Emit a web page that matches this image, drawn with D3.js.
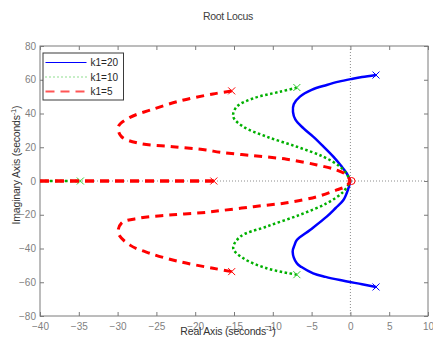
<!DOCTYPE html>
<html>
<head>
<meta charset="utf-8">
<script src="https://cdn.jsdelivr.net/npm/d3@7/dist/d3.min.js"></script>
<style>
  html, body { margin: 0; padding: 0; background: #fff; }
  svg { display: block; font-family: "Liberation Sans", Arial, Helvetica, sans-serif; }
</style>
</head>
<body>
<svg id="chart" width="433" height="341"></svg>
<script>
// Root locus branches for three gains, as [real, imaginary] pairs.
const xTicks = [-40, -35, -30, -25, -20, -15, -10, -5, 0, 5, 10];
const yTicks = [-80, -60, -40, -20, 0, 20, 40, 60, 80];

// k1 = 20
const k20Upper = [[3.3, 62.8], [1.5, 61.6], [0.3, 60.6], [-1.5, 58.9], [-3.05, 56.9], [-5, 54], [-6.5, 50],
  [-7.3, 45.5], [-7.4, 41], [-7.1, 36.5], [-6, 31], [-4.8, 26.3], [-3.5, 20.5], [-2.2, 14.4], [-1.2, 9], [-0.48, 4.6], [0, 0]];
const k20Lower = [[3.3, -62.8], [1.5, -61.2], [-1.34, -58.7], [-3.2, -56.8], [-4.8, -54.7], [-6.3, -51], [-6.9, -48.8],
  [-7.44, -41.9], [-7.2, -38], [-6.9, -35], [-5.2, -29], [-3.05, -21.1], [-1.9, -16], [-0.9, -11.3], [-0.3, -5], [0, 0]];
const k20Poles = [[3.3, 62.8], [3.3, -62.8]];

// k1 = 10
const k10Upper = [[-6.9, 55.3], [-9.07, 52.9], [-12.5, 49], [-14.65, 44], [-15.1, 38.1], [-13.8, 32.2],
  [-10.8, 26.3], [-6.9, 20.3], [-3.5, 14.4], [-1.34, 8.5], [-0.4, 3.5], [0, 0]];
const k10Lower = [[-6.9, -55.5], [-10.8, -51.7], [-13.8, -45.8], [-15.1, -39.9], [-14.2, -33], [-10.8, -27],
  [-6.5, -20], [-3.05, -13.2], [-0.9, -6.3], [0, 0]];
const k10Real = [[-40, 0], [-34.8, 0]];
const k10Poles = [[-6.9, 55.4], [-6.9, -55.5], [-34.8, 0]];

// k1 = 5
const k5Upper = [[-15.3, 53.3], [-17.7, 51.6], [-22, 47.4], [-25.8, 42], [-28.4, 37.7], [-29.9, 32.2],
  [-29.5, 26.3], [-27.2, 22.3], [-22.9, 20.3], [-18.6, 18.4], [-16.8, 17], [-12.5, 15], [-8.2, 12.9],
  [-4.3, 9.5], [-1.77, 6.5], [-0.5, 3.6], [0, 0]];
const k5Lower = [[-15.3, -53.7], [-17.7, -51.7], [-22, -47.8], [-25.8, -42.9], [-28.4, -38], [-29.9, -31],
  [-29.5, -25], [-27.2, -22], [-22.9, -20], [-18.6, -18.6], [-16.8, -17.6], [-12.5, -15.2], [-8.2, -12.9],
  [-4.3, -9.3], [-1.77, -5.3], [-0.5, -3], [0, 0]];
const k5Real = [[-40, 0], [-17.6, 0]];
const k5Poles = [[-15.3, 53.4], [-15.3, -53.7], [-17.6, 0]];
const zeros = [[0.15, 0]];

const seriesNames = ["k1=20", "k1=10", "k1=5"];

const svg = d3.select("#chart");
const x = d3.scaleLinear().domain([-40, 10]).range([40, 428]);
const y = d3.scaleLinear().domain([-80, 80]).range([316, 46]);

const axisColor = "#7a7a7a";
const tickText = "#7f7f7f";

svg.append("rect").attr("width", 433).attr("height", 341).attr("fill", "#fff");

svg.append("defs").append("clipPath").attr("id", "plotClip")
  .append("rect").attr("x", 40).attr("y", 46).attr("width", 388).attr("height", 270);

// Axes with inward ticks on all four sides
const tickLen = 4;
const axBottom = svg.append("g").attr("transform", `translate(0,316)`)
  .call(d3.axisBottom(x).tickValues(xTicks).tickSize(-tickLen).tickPadding(7).tickFormat(d3.format("d")));
const axTop = svg.append("g").attr("transform", `translate(0,46)`)
  .call(d3.axisTop(x).tickValues(xTicks).tickSize(-tickLen).tickFormat(""));
const axLeft = svg.append("g").attr("transform", `translate(40,0)`)
  .call(d3.axisLeft(y).tickValues(yTicks).tickSize(-tickLen).tickPadding(4).tickFormat(d3.format("d")));
const axRight = svg.append("g").attr("transform", `translate(428,0)`)
  .call(d3.axisRight(y).tickValues(yTicks).tickSize(-tickLen).tickFormat(""));

[axBottom, axTop, axLeft, axRight].forEach(g => {
  g.select(".domain").remove();
  g.selectAll(".tick line").attr("stroke", axisColor);
  g.selectAll(".tick text").attr("fill", tickText).attr("font-size", 10)
    .attr("font-family", "Liberation Sans, Arial, sans-serif");
});
// plot frame
svg.append("rect").attr("x", 40).attr("y", 46).attr("width", 388).attr("height", 270)
  .attr("fill", "none").attr("stroke", axisColor).attr("stroke-width", 1);

const plot = svg.append("g").attr("clip-path", "url(#plotClip)");

// dotted reference axes through the origin
plot.append("line").attr("x1", 40).attr("x2", 428).attr("y1", y(0)).attr("y2", y(0))
  .attr("stroke", "#8c8c8c").attr("stroke-width", 1).attr("stroke-dasharray", "1,2");
plot.append("line").attr("x1", x(0)).attr("x2", x(0)).attr("y1", 46).attr("y2", 316)
  .attr("stroke", "#8c8c8c").attr("stroke-width", 1).attr("stroke-dasharray", "1,2");

const line = d3.line().x(d => x(d[0])).y(d => y(d[1])).curve(d3.curveCatmullRom.alpha(0.5));

function branch(data, color, width, dash) {
  plot.append("path").datum(data).attr("d", line)
    .attr("fill", "none").attr("stroke", color).attr("stroke-width", width)
    .attr("stroke-dasharray", dash).attr("stroke-linecap", "butt");
}
function crosses(data, color) {
  const s = 3.5;
  plot.selectAll(null).data(data).join("path")
    .attr("d", d => `M${x(d[0]) - s},${y(d[1]) - s}L${x(d[0]) + s},${y(d[1]) + s}M${x(d[0]) - s},${y(d[1]) + s}L${x(d[0]) + s},${y(d[1]) - s}`)
    .attr("stroke", color).attr("stroke-width", 1).attr("fill", "none");
}

const blue = "#0000ff", green = "#00b000", red = "#ff0000";

branch(k20Upper, blue, 2.5, null);
branch(k20Lower, blue, 2.5, null);
crosses(k20Poles, blue);

branch(k10Upper, green, 2.5, "2.5,2.5");
branch(k10Lower, green, 2.5, "2.5,2.5");
branch(k10Real, green, 2.5, "2.5,2.5");
crosses(k10Poles, "#33cc33");

branch(k5Upper, red, 3, "8,6");
branch(k5Lower, red, 3, "8,6");
branch(k5Real, red, 3.5, "9,6");
crosses(k5Poles, red);

plot.selectAll(null).data(zeros).join("circle")
  .attr("cx", d => x(d[0])).attr("cy", d => y(d[1])).attr("r", 3.5)
  .attr("fill", "none").attr("stroke", red).attr("stroke-width", 1);

// Title and axis labels
svg.append("text").attr("x", 228).attr("y", 19.5).attr("text-anchor", "middle")
  .attr("font-size", 10.5).attr("fill", "#404040").attr("letter-spacing", "-0.3").text("Root Locus");

const xl = svg.append("text").attr("x", 228).attr("y", 335).attr("text-anchor", "middle")
  .attr("font-size", 10.5).attr("fill", "#333").attr("letter-spacing", "-0.2");
xl.append("tspan").text("Real Axis (seconds");
xl.append("tspan").attr("font-size", 7.5).attr("dy", -4).text("-1");
xl.append("tspan").attr("dy", 4).text(")");

const yl = svg.append("text").attr("transform", "translate(19.5,165) rotate(-90)").attr("text-anchor", "middle")
  .attr("font-size", 10.5).attr("fill", "#333").attr("letter-spacing", "-0.2");
yl.append("tspan").text("Imaginary Axis (seconds");
yl.append("tspan").attr("font-size", 7.5).attr("dy", -4).text("-1");
yl.append("tspan").attr("dy", 4).text(")");

// Legend
const lg = svg.append("g");
lg.append("rect").attr("x", 43).attr("y", 53).attr("width", 80.5).attr("height", 47)
  .attr("fill", "#fff").attr("stroke", "#3a3a3a").attr("stroke-width", 1);
const legendStyles = [
  { color: blue, width: 1.2, dash: null },
  { color: "#22bb22", width: 1.2, dash: "1,3" },
  { color: "#ff5555", width: 2, dash: "9,6" }
];
seriesNames.forEach((name, i) => {
  const yy = 62.5 + i * 14.5;
  lg.append("line").attr("x1", 45.5).attr("x2", 86.5).attr("y1", yy).attr("y2", yy)
    .attr("stroke", legendStyles[i].color).attr("stroke-width", legendStyles[i].width)
    .attr("stroke-dasharray", legendStyles[i].dash);
  lg.append("text").attr("x", 90.5).attr("y", yy + 3.5).attr("font-size", 10)
    .attr("fill", "#262626").text(name);
});
</script>
</body>
</html>
